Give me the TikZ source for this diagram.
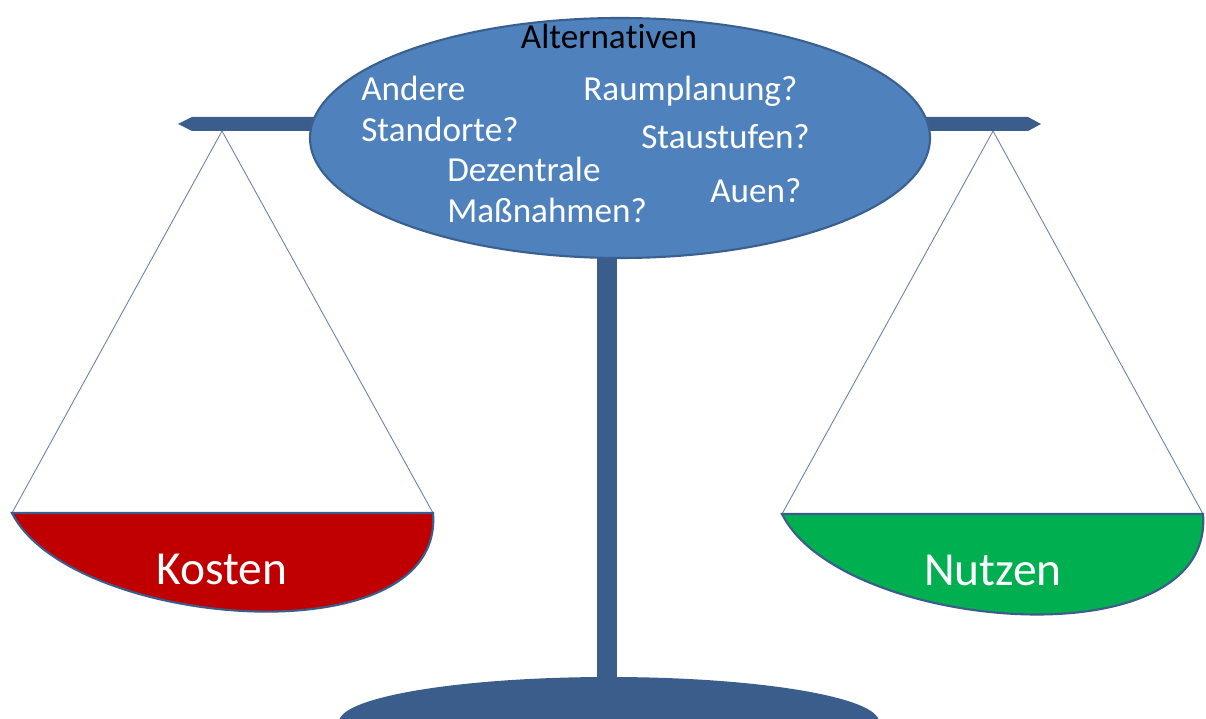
\documentclass[tikz,border=0pt]{standalone}
\usepackage{fontspec}
\setmainfont{Carlito}[RawFeature={-liga;-clig;-calt;-dlig}]
\definecolor{beamblue}{HTML}{3A5D8B}
\definecolor{discblue}{HTML}{4F81BD}
\definecolor{discedge}{HTML}{3A6090}
\definecolor{costred}{HTML}{C00000}
\definecolor{gaingreen}{HTML}{00B050}
\definecolor{stringgrey}{HTML}{6A82A6}
\begin{document}
\begin{tikzpicture}[x=0.02cm, y=-0.02cm, bar/.style={fill=beamblue, draw=none},
					pan/.style={draw=beamblue, line width=1.2pt},
					thread/.style={draw=stringgrey, line width=0.5pt},
					idea/.style={text=white, font=\fontsize{20}{24}\selectfont, inner sep=0pt, anchor=base west},
					weight/.style={text=white, font=\fontsize{27}{32}\selectfont, inner sep=0pt, anchor=base}]
					
					\useasboundingbox (0,0) rectangle (1206,719);
					
					\begin{scope}
						\clip (0,0) rectangle (1206,719);
						\fill[beamblue] (609,722) ellipse [x radius=270, y radius=45];
					\end{scope}
					\fill[bar] (597,250) rectangle (617,680);
					\fill[bar] (178,124) -- (192,117) -- (1028,117) -- (1041,124) -- (1028,131) -- (192,131) -- cycle;
					\filldraw[draw=discedge, fill=discblue, line width=1.2pt] (620,138) ellipse [x radius=310, y radius=120];
					
					\node[inner sep=0pt, anchor=base, font=\fontsize{20}{24}\selectfont] (alt) at (609,49) {Alterna\kern0pt tiven};
					\node[idea] (andere) at (361,101) {Andere};
					\node[idea] (standorte) at (361,142) {Standorte?};
					\node[idea] (raum) at (583,101) {Raumplanung?};
					\node[idea] (stau) at (641,149) {Staustufen?};
					\node[idea] (dezentral) at (447,182) {Dezentrale};
					\node[idea] (massnahmen) at (447,223) {Maßnahmen?};
					\node[idea] (auen) at (710,203) {Auen?};
					
					\coordinate (hookL) at (222,131);
					\coordinate (panLw) at (12,513);
					\coordinate (panLe) at (433,513);
					\coordinate (hookR) at (993,131);
					\coordinate (panRw) at (782,514);
					\coordinate (panRe) at (1203,514);
					
					\draw[thread] (hookL) to (panLw);
					\draw[thread] (hookL) to (panLe);
					\draw[thread] (hookR) to (panRw);
					\draw[thread] (hookR) to (panRe);
					
					\filldraw[pan, fill=costred] (panLw) .. controls (70,628) and (445,660) .. (panLe) -- cycle;
					\filldraw[pan, fill=gaingreen] (panRw) .. controls (840,631) and (1215,664) .. (panRe) -- cycle;
					
					\node[weight] (kosten) at (222,584) {Kosten};
					\node[weight] (nutzen) at (993,585) {Nutzen};
					
				\end{tikzpicture}
\end{document}
